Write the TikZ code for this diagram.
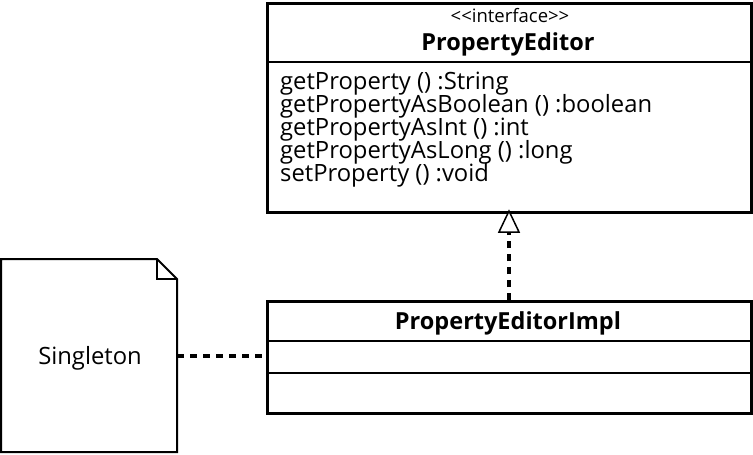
\documentclass[tikz,border=0pt]{standalone}
\usepackage{fontspec}
\setmainfont{Open Sans}
\usetikzlibrary{arrows.meta}
\tikzset{
  classbox/.style={draw=black, line width=3pt, fill=white},
  divider/.style={draw=black, line width=2.5pt},
  notebox/.style={draw=black, line width=2pt, line join=miter},
  dep/.style={line width=4pt, dash pattern=on 7pt off 6pt},
  txt/.style={inner sep=0pt, anchor=base},
  mtext/.style={inner sep=0pt, anchor=base west, font=\fontsize{23.8}{26}\selectfont},
  ttext/.style={inner sep=0pt, anchor=base, font=\fontsize{23.5}{26}\selectfont\bfseries},
}
\begin{document}
\begin{tikzpicture}[x=1pt,y=-1pt]
\useasboundingbox (0,0) rectangle (753,455);
% PropertyEditor interface
\node[classbox, minimum width=484pt, minimum height=209pt, anchor=north west, inner sep=0pt] (pe) at (266,2) {};
\draw[divider] (266,62) -- (750,62);
\node[txt, font=\fontsize{18.5}{20}\selectfont] (pest) at (510,22) {{<}{<}interface{>}{>}};
\node[ttext] (pen) at (508,50) {PropertyEditor};
\node[mtext] (pem) at (280,89) {getProperty () :String};
\node[mtext] (pem2) at (280,112) {getPropertyAsBoolean () :boolean};
\node[mtext] (pem3) at (280,135) {getPropertyAsInt () :int};
\node[mtext] (pem4) at (280,158) {getPropertyAsLong () :long};
\node[mtext] (pem5) at (280,181) {setProperty () :void};
% PropertyEditorImpl
\node[classbox, minimum width=484pt, minimum height=112pt, anchor=north west, inner sep=0pt] (pei) at (266,300) {};
\draw[divider] (266,341) -- (750,341);
\draw[divider] (266,373) -- (750,373);
\node[ttext] (pein) at (508,329) {PropertyEditorImpl};
% Singleton note
\draw[notebox, fill=white] (1,259) -- (157,259) -- (177,279) -- (177,452) -- (1,452) -- cycle;
\draw[notebox] (157,259) -- (157,279) -- (177,279);
\coordinate (noteR) at (177,356);
\node[txt, font=\fontsize{23.8}{26}\selectfont] (sing) at (90,364) {Singleton};
% connectors
\coordinate (peB) at (509,211);
\coordinate (peiT) at (509,300);
\draw[dep] (peiT) -- (509,233);
\draw[line width=1.5pt, fill=white] (peB) -- (499,232) -- (519,232) -- cycle;
\coordinate (peiL) at (266,356);
\draw[dep] (noteR) -- (peiL);
\end{tikzpicture}
\end{document}
